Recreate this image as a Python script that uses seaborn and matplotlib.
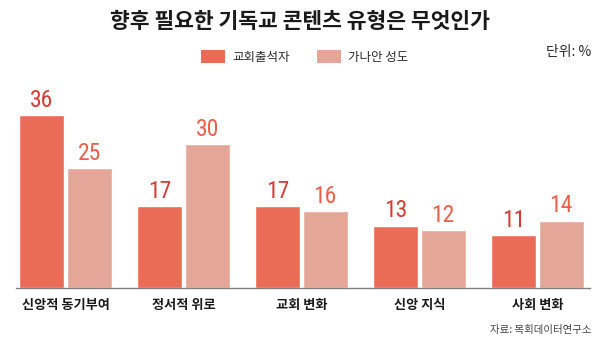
import matplotlib
matplotlib.use("Agg")
import matplotlib.pyplot as plt
from matplotlib.patches import Patch
import seaborn as sns
import pandas as pd

categories = ["신앙적 동기부여", "정서적 위로", "교회 변화", "신앙 지식", "사회 변화"]
series_names = ["교회출석자", "가나안 성도"]
churchgoers = [36, 17, 17, 13, 11]
unchurched = [25, 30, 16, 12, 14]

bar_colors = ["#EB6C56", "#E4A697"]
label_colors = ["#D63A33", "#EE5E4A"]

df = pd.DataFrame({
    "category": categories * 2,
    "group": [series_names[0]] * len(categories) + [series_names[1]] * len(categories),
    "value": churchgoers + unchurched,
})

sns.set_theme(style="white")
plt.rcParams["font.family"] = ["Noto Sans CJK KR", "DejaVu Sans"]

fig = plt.figure(figsize=(6.0, 3.43), dpi=100)
ax = fig.add_axes([16 / 600, 55 / 343, 574 / 600, 208 / 343])

sns.barplot(
    data=df, x="category", y="value", hue="group",
    order=categories, hue_order=series_names,
    palette=bar_colors, width=0.8, gap=0.05,
    saturation=1, errorbar=None, ax=ax, legend=False,
)

ax.set_xlim(-0.4195, 4.445)
ax.set_ylim(0, 208 / 4.8)

# value labels above each bar, in a condensed face
for container, col in zip(ax.containers, label_colors):
    ax.bar_label(container, fmt="%d", padding=2.5, color=col,
                 fontsize=17, family=["Roboto Condensed", "DejaVu Sans"])

for side in ["left", "right", "top"]:
    ax.spines[side].set_visible(False)
ax.spines["bottom"].set_color("#808080")
ax.spines["bottom"].set_linewidth(1.0)
ax.set_yticks([])
ax.set_xlabel("")
ax.set_ylabel("")
ax.tick_params(axis="x", length=0, pad=7)
for lbl in ax.get_xticklabels():
    lbl.set_fontsize(9.5)
    lbl.set_fontweight("bold")
    lbl.set_color("#1a1a1a")

# legend row under the title
handles = [Patch(facecolor=c, edgecolor="none") for c in bar_colors]
fig.legend(handles, series_names, loc="center", bbox_to_anchor=(0.508, 1 - 57 / 343),
           ncol=2, frameon=False, fontsize=9, handlelength=1.9, handleheight=1.25,
           handletextpad=0.6, columnspacing=2.2, labelcolor="#2a2a2a")

fig.text(0.5, 1 - 21 / 343, "향후 필요한 기독교 콘텐츠 유형은 무엇인가",
         ha="center", va="center", fontsize=15.5, fontweight="heavy", color="#1a1a1a")
fig.text(591 / 600, 1 - 52 / 343, "단위: %", ha="right", va="center",
         fontsize=10, color="#2a2a2a")
fig.text(591 / 600, 1 - 330 / 343, "자료: 목회데이터연구소", ha="right", va="center",
         fontsize=7.5, color="#444444")

fig.savefig("out.png", dpi=100)
